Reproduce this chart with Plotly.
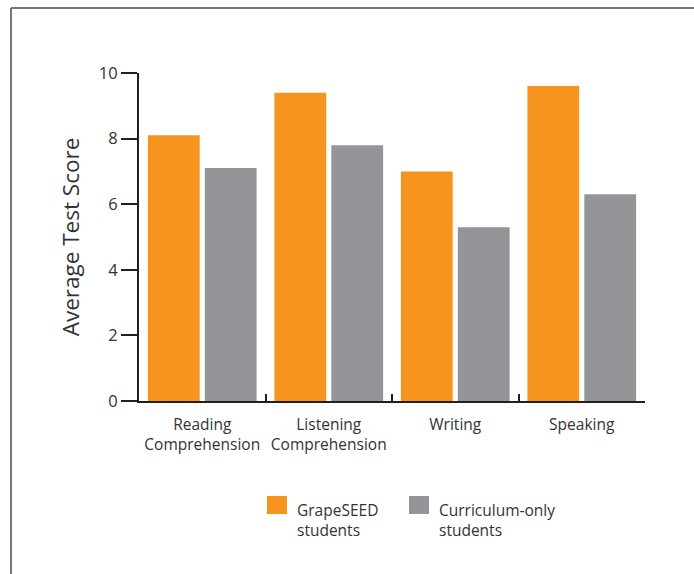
import plotly.graph_objects as go

# Categories and series
categories = ["Reading<br>Comprehension", "Listening<br>Comprehension", "Writing", "Speaking"]
series_names = ["GrapeSEED<br>students", "Curriculum-only<br>students"]
grapeseed_scores = [8.1, 9.4, 7.0, 9.6]
curriculum_scores = [7.1, 7.8, 5.3, 6.3]
y_ticks = [0, 2, 4, 6, 8, 10]

ORANGE = "#F7941D"
GRAY = "#939598"
AXIS = "#231F20"
TEXT = "#333333"
FONT = "Open Sans"

W, H = 694, 574
L, R, T, B = 139, 49, 73, 173
pw, ph = W - L - R, H - T - B


def px_x(x):
    return (x - L) / pw


def px_y(y):
    return (H - B - y) / ph


fig = go.Figure()
fig.add_trace(go.Bar(x=categories, y=grapeseed_scores, name=series_names[0],
                     marker=dict(color=ORANGE, line=dict(width=0)), showlegend=False))
fig.add_trace(go.Bar(x=categories, y=curriculum_scores, name=series_names[1],
                     marker=dict(color=GRAY, line=dict(width=0)), showlegend=False))

shapes = [
    # frame: top and left edges
    dict(type="line", xref="paper", yref="paper", x0=px_x(11), x1=px_x(W + 2),
         y0=px_y(8), y1=px_y(8), line=dict(color="#4a4a4a", width=1.5)),
    dict(type="line", xref="paper", yref="paper", x0=px_x(11), x1=px_x(11),
         y0=px_y(8), y1=px_y(H + 2), line=dict(color="#4a4a4a", width=1.5)),
]

# legend swatches and labels
annotations = []
legend_items = [(series_names[0], ORANGE, 267), (series_names[1], GRAY, 409)]
for name, color, x0 in legend_items:
    shapes.append(dict(type="rect", xref="paper", yref="paper",
                       x0=px_x(x0), x1=px_x(x0 + 20), y0=px_y(496), y1=px_y(514),
                       fillcolor=color, line=dict(width=0)))
    annotations.append(dict(xref="paper", yref="paper", x=px_x(x0 + 28), y=px_y(497),
                            xanchor="left", yanchor="top", align="left", text=name,
                            showarrow=False, font=dict(family=FONT, size=15.5, color=TEXT)))

fig.update_layout(
    width=W, height=H,
    margin=dict(l=L, r=R, t=T, b=B),
    paper_bgcolor="white", plot_bgcolor="white",
    barmode="group", bargap=0.1, bargroupgap=0.09,
    font=dict(family=FONT, color=TEXT),
    shapes=shapes, annotations=annotations,
    showlegend=False,
)
fig.update_xaxes(
    range=[-0.5, 3.5], showline=True, linecolor=AXIS, linewidth=2,
    ticks="inside", tickson="boundaries", ticklen=7, tickwidth=2, tickcolor=AXIS,
    tickfont=dict(family=FONT, size=15.5, color=TEXT), showgrid=False,
    ticklabelstandoff=8,
)
fig.update_yaxes(
    range=[0, 10], tickvals=y_ticks, showline=True, linecolor=AXIS, linewidth=2,
    ticks="outside", ticklen=16, tickwidth=2, tickcolor=AXIS,
    tickfont=dict(family=FONT, size=16.5, color=TEXT), showgrid=False, zeroline=False,
    title=dict(text="Average Test Score", font=dict(family=FONT, size=22.5, color=TEXT),
               standoff=13),
)

fig.write_html("out.html")
